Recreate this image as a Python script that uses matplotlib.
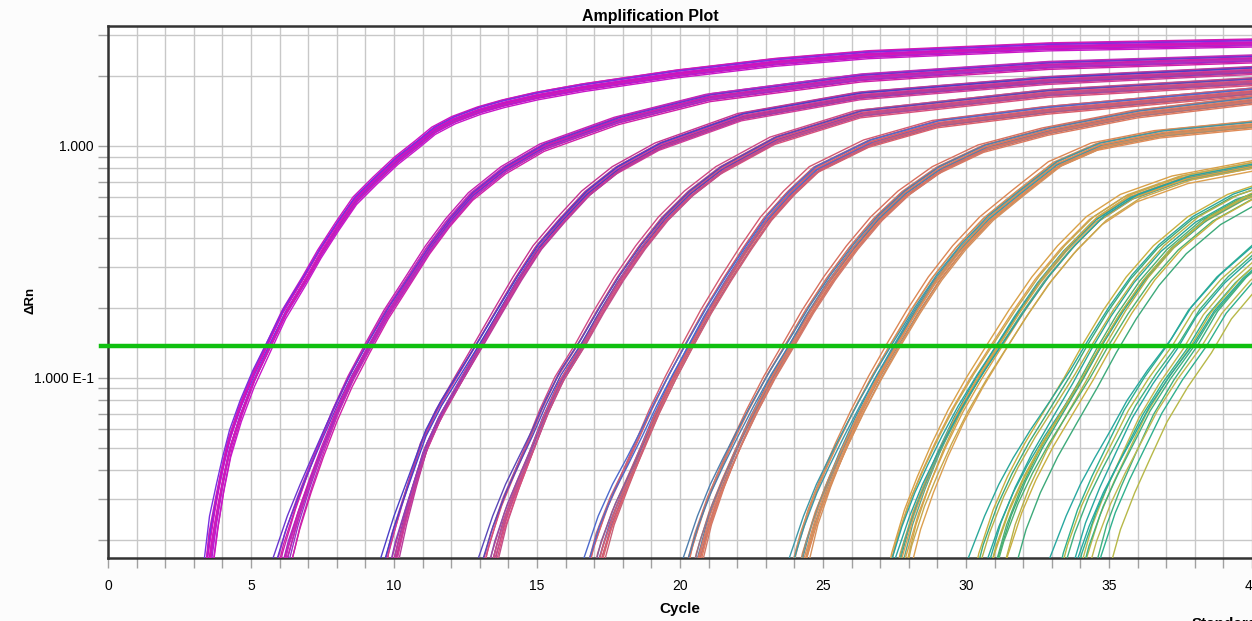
import numpy as np
import matplotlib.pyplot as plt
from matplotlib.ticker import FixedLocator, NullFormatter, FixedFormatter

plt.rcParams['font.family'] = ['Liberation Sans', 'DejaVu Sans']

# threshold line (delta Rn)
threshold = 0.137

# curves, one dilution group each: cycle vs delta Rn
g1_cyc = [3.3, 3.55, 3.79, 4.0, 4.25, 4.62, 5.07, 5.62, 6.17, 6.87, 7.41, 8.04, 8.65, 9.35, 10.1, 10.83, 11.4, 12.1, 13.0, 13.84, 15.0, 16.6, 19.85, 23.3, 26.55, 32.84, 41.0]
g1_drn = [0.006, 0.017, 0.0262, 0.0364, 0.0505, 0.0704, 0.098, 0.1365, 0.190, 0.264, 0.345, 0.455, 0.585, 0.713, 0.87, 1.024, 1.17, 1.30, 1.43, 1.53, 1.65, 1.79, 2.05, 2.30, 2.48, 2.68, 2.80]

g2_cyc = [5.5, 6.2, 6.65, 7.05, 7.48, 7.95, 8.48, 9.1, 9.75, 10.5, 11.2, 11.9, 12.7, 13.84, 15.2, 17.8, 21.0, 26.3, 32.84, 41.0]
g2_drn = [0.006, 0.017, 0.0262, 0.0364, 0.0505, 0.0704, 0.098, 0.1365, 0.190, 0.264, 0.36, 0.47, 0.61, 0.79, 0.99, 1.29, 1.62, 1.97, 2.23, 2.40]

g3_cyc = [9.3, 9.95, 10.36, 10.7, 11.06, 11.6, 12.27, 12.95, 13.62, 14.3, 15.0, 15.8, 16.7, 17.77, 19.27, 22.16, 26.3, 32.84, 41.0]
g3_drn = [0.006, 0.017, 0.0262, 0.0364, 0.0505, 0.0704, 0.098, 0.1365, 0.190, 0.264, 0.36, 0.47, 0.62, 0.79, 1.0, 1.34, 1.65, 1.92, 2.15]

g4_cyc = [12.7, 13.4, 13.85, 14.3, 14.78, 15.24, 15.78, 16.5, 17.15, 17.85, 18.6, 19.4, 20.3, 21.4, 23.3, 26.3, 32.84, 41.0]
g4_drn = [0.006, 0.017, 0.0262, 0.0364, 0.0505, 0.0704, 0.098, 0.1365, 0.190, 0.264, 0.36, 0.48, 0.62, 0.79, 1.06, 1.38, 1.69, 1.93]

g5_cyc = [16.4, 17.1, 17.6, 18.1, 18.6, 19.1, 19.66, 20.27, 20.9, 21.6, 22.3, 23.0, 23.8, 24.7, 26.6, 29.0, 32.84, 41.0]
g5_drn = [0.006, 0.017, 0.0262, 0.0364, 0.0505, 0.0704, 0.098, 0.1365, 0.190, 0.264, 0.36, 0.48, 0.62, 0.79, 1.03, 1.25, 1.43, 1.76]

g6_cyc = [19.85, 20.55, 21.0, 21.45, 21.95, 22.5, 23.1, 23.78, 24.45, 25.2, 26.0, 26.85, 27.8, 29.0, 30.6, 32.84, 36.0, 41.0]
g6_drn = [0.006, 0.017, 0.0262, 0.0364, 0.0505, 0.0704, 0.098, 0.1365, 0.190, 0.264, 0.36, 0.48, 0.62, 0.79, 0.98, 1.16, 1.38, 1.63]

g7_cyc = [23.55, 24.25, 24.7, 25.15, 25.65, 26.2, 26.8, 27.46, 28.15, 28.9, 29.75, 30.7, 31.8, 33.1, 34.6, 36.8, 41.0]
g7_drn = [0.006, 0.017, 0.0262, 0.0364, 0.0505, 0.0704, 0.098, 0.1365, 0.190, 0.264, 0.36, 0.48, 0.62, 0.83, 1.0, 1.13, 1.27]

g8_cyc = [27.0, 27.7, 28.15, 28.6, 29.1, 29.67, 30.33, 31.06, 31.8, 32.6, 33.5, 34.5, 35.7, 37.5, 41.0]
g8_drn = [0.006, 0.017, 0.0262, 0.0364, 0.0505, 0.0704, 0.098, 0.1365, 0.190, 0.264, 0.36, 0.48, 0.60, 0.72, 0.87]

g9_cyc = [30.2, 31.0, 31.5, 32.0, 32.6, 33.3, 34.0, 34.65, 35.35, 36.15, 37.1, 38.3, 39.7, 41.0]
g9_drn = [0.006, 0.017, 0.0262, 0.0364, 0.0505, 0.0704, 0.098, 0.1365, 0.190, 0.264, 0.36, 0.48, 0.60, 0.68]

g10_cyc = [33.2, 34.0, 34.5, 35.0, 35.56, 36.13, 36.85, 37.68, 38.38, 39.37, 41.0]
g10_drn = [0.006, 0.017, 0.0262, 0.0364, 0.0505, 0.0704, 0.098, 0.1365, 0.190, 0.264, 0.40]

# replicate wells: cycle offsets per group, shared plateau factor and baseline offset
g1_shift = [-0.08, -0.05, -0.03, -0.02, 0.0, 0.01, 0.03, 0.05, 0.07, 0.08, -0.06, 0.04, 0.0, 0.06]
g2_shift = [-0.1, -0.07, -0.04, -0.02, 0.0, 0.02, 0.04, 0.06, 0.08, 0.1, -0.01, 0.05, 0.07, 0.12]
g3_shift = [-0.14, -0.08, -0.05, -0.02, 0.0, 0.02, 0.04, 0.06, 0.08, 0.1, 0.13, -0.01, 0.05, 0.16]
g4_shift = [-0.15, -0.08, -0.05, -0.02, 0.0, 0.02, 0.04, 0.06, 0.09, 0.12, 0.15, 0.01, 0.05, 0.18]
g5_shift = [-0.18, -0.1, -0.06, -0.03, 0.0, 0.02, 0.05, 0.08, 0.1, 0.14, 0.18, -0.01, 0.04, 0.2]
g6_shift = [-0.18, -0.1, -0.06, -0.03, 0.0, 0.02, 0.05, 0.08, 0.1, 0.14, 0.18, 0.01, 0.06, 0.22]
g7_shift = [-0.22, -0.12, -0.08, -0.04, 0.0, 0.03, 0.06, 0.09, 0.12, 0.16, 0.2, -0.02, 0.07, 0.25]
g8_shift = [-0.3, -0.18, -0.1, -0.05, -0.02, 0.0, 0.03, 0.06, 0.1, 0.14, 0.2, 0.26, 0.33, 0.4]
g9_shift = [-0.55, -0.4, -0.28, -0.18, -0.08, 0.0, 0.08, 0.15, 0.22, 0.32, 0.45, 0.6, -0.35, 0.05]
g10_shift = [-0.6, -0.45, -0.32, -0.2, -0.08, 0.05, 0.18, 0.3, 0.42, 0.56, 0.72, 0.9, -0.5, 0.3]
rep_scale = [1.03, 1.0, 0.98, 1.02, 1.0, 0.97, 1.01, 0.99, 1.04, 0.98, 1.0, 0.96, 1.02, 0.99]
rep_base = [0.0, 0.002, -0.002, 0.004, -0.003, 0.001, -0.001, 0.006, -0.004, 0.003, 0.0, -0.003, 0.008, 0.002]

g1_col = ['#D010C0', '#C818C8', '#7A30E0', '#D21AB4', '#B020D0']
g2_col = ['#C820B0', '#D020A8', '#6A35D0', '#C02CB8', '#9A30C8']
g3_col = ['#C8348F', '#D03C98', '#4A3FC8', '#B83C9C', '#8A40B8']
g4_col = ['#D04A85', '#D8507C', '#5A48B8', '#C0508C', '#9050A8']
g5_col = ['#D45A72', '#DA606C', '#4D6ACD', '#C86078', '#8A6098']
g6_col = ['#D8705F', '#DC7A60', '#4F7FAE', '#D0786A', '#8A7890']
g7_col = ['#DC8755', '#E08C58', '#3E98A8', '#D4905C', '#8E9080']
g8_col = ['#D9A148', '#DCA050', '#2AA3A0', '#C8A84C', '#60A888']
g9_col = ['#C9B040', '#3DAA7A', '#2AA89A', '#B8B048', '#50B070']
g10_col = ['#2FB08E', '#B7B848', '#28A8A0', '#40B080', '#C0B850']

groups = [
    (g1_cyc, g1_drn, g1_shift, g1_col),
    (g2_cyc, g2_drn, g2_shift, g2_col),
    (g3_cyc, g3_drn, g3_shift, g3_col),
    (g4_cyc, g4_drn, g4_shift, g4_col),
    (g5_cyc, g5_drn, g5_shift, g5_col),
    (g6_cyc, g6_drn, g6_shift, g6_col),
    (g7_cyc, g7_drn, g7_shift, g7_col),
    (g8_cyc, g8_drn, g8_shift, g8_col),
    (g9_cyc, g9_drn, g9_shift, g9_col),
    (g10_cyc, g10_drn, g10_shift, g10_col),
]

W, H = 1252, 621
fig = plt.figure(figsize=(W / 100, H / 100), dpi=100, facecolor='#FCFCFC')
ax = fig.add_axes([108 / W, 1 - 558 / H, (1252 - 108) / W, (558 - 26) / H])
ax.set_facecolor('white')

ax.set_yscale('log')
ax.set_xlim(0, 40)
ax.set_ylim(0.0167, 3.29)

for cyc, drn, shift, cols in groups:
    cyc = np.array(cyc)
    drn = np.array(drn)
    for i, s in enumerate(shift):
        ax.plot(cyc + s, drn * rep_scale[i] + rep_base[i], color=cols[i % len(cols)],
                lw=1.0, zorder=3)

ax.plot([-0.25, 40], [threshold, threshold], color='#10C010', lw=3.2, zorder=4, clip_on=False)

# ticks and grid
ax.xaxis.set_major_locator(FixedLocator(range(0, 41, 5)))
ax.xaxis.set_minor_locator(FixedLocator(range(0, 41)))
ax.yaxis.set_major_locator(FixedLocator([0.1, 1.0]))
ax.yaxis.set_major_formatter(FixedFormatter(['1.000 E-1', '1.000']))
ymin_ticks = [m * 10.0 ** k for k in (-2, -1, 0) for m in range(2, 10)]
ax.yaxis.set_minor_locator(FixedLocator(ymin_ticks))
ax.yaxis.set_minor_formatter(NullFormatter())
ax.grid(True, which='both', color='#C8C8C8', lw=1.0, zorder=0)
ax.set_axisbelow(True)
ax.tick_params(which='both', direction='out', length=7, width=1, color='#A0A0A0',
               labelsize=10, labelcolor='black', pad=8)
ax.tick_params(axis='y', pad=3)

for side in ('left', 'bottom', 'top'):
    ax.spines[side].set_color('#333333')
    ax.spines[side].set_linewidth(1.8)
ax.spines['right'].set_visible(False)

fig.text(650 / W, 1 - 17 / H, 'Amplification Plot', ha='center', va='center',
         fontsize=11.5, fontweight='bold')
fig.text(680 / W, 1 - 609 / H, 'Cycle', ha='center', va='center',
         fontsize=11, fontweight='bold')
fig.text(30 / W, 1 - 300 / H, 'ΔRn', ha='center', va='center', rotation=90,
         fontsize=9.5, fontweight='bold')
fig.text(1192 / W, 1 - 624 / H, 'Standard', ha='left', va='center',
         fontsize=11, fontweight='bold')

fig.savefig('out.png', dpi=100, facecolor=fig.get_facecolor())
